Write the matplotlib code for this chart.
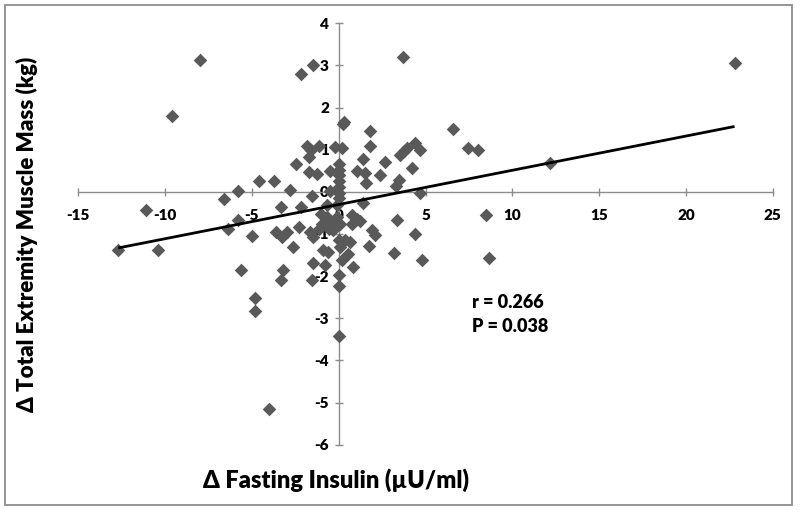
import matplotlib
matplotlib.use("Agg")
import matplotlib.pyplot as plt
from matplotlib.patches import Rectangle
import numpy as np

# Δ Fasting Insulin (µU/ml)
insulin_change = [
    -12.7, -11.1, -10.4, -9.6, -8.0, -6.6, -6.4, -5.8, -5.8, -5.6,
    -5.0, -4.8, -4.8, -4.57, -4.0, -3.72, -3.6, -3.28, -3.3, -2.99,
    -3.2, -3.3, -2.8, -2.61, -2.47, -2.27, -2.2, -2.2, -1.81, -1.6,
    -1.72, -1.72, -1.67, -1.5, -1.55, -1.5, -1.5, -1.55, -1.27, -1.12,
    -1.15, -1.0, -0.98, -0.92, -0.79, -0.69, -0.69, -0.6, -0.5, -0.5,
    -0.4, -0.31, -0.55, -0.22, -0.12, -0.1, 0.0, 0.0, 0.0, 0.0,
    0.0, 0.0, 0.0, 0.07, 0.0, 0.07, 0.17, 0.0, 0.0, 0.0,
    0.2, 0.25, 0.32, 0.36, 0.55, 0.65, 0.75, 0.75, 0.84, 1.05,
    1.05, 1.25, 1.42, 1.42, 1.51, 1.6, 1.78, 1.78, 1.76, 1.9,
    2.1, 2.38, 2.67, 3.2, 3.28, 3.47, 3.35, 3.55, 3.7, 3.78,
    3.91, 4.2, 4.37, 4.37, 4.68, 4.68, 4.8, 6.6, 7.46, 8.0,
    8.48, 8.67, 12.2, 22.8,
]
# Δ Total Extremity Muscle Mass (kg)
muscle_change = [
    -1.37, -0.42, -1.39, 1.79, 3.12, -0.17, -0.89, 0.03, -0.66, -1.85,
    -1.05, -2.51, -2.83, 0.26, -5.15, 0.26, -0.95, -1.07, -0.35, -0.95,
    -1.85, -2.1, 0.05, -1.30, 0.67, -0.84, -0.35, 2.79, 1.10, 1.0,
    0.82, 0.48, -0.95, 3.0, -0.11, -1.07, -1.69, -2.1, 0.43, 1.08,
    -0.88, -0.52, -0.76, -1.39, -1.73, -0.6, -0.32, -1.43, 0.49, 0.02,
    -0.76, -0.91, -0.88, 1.07, -0.6, -0.3, 0.67, 0.51, 0.4, 0.25,
    0.12, -0.03, -0.15, -0.76, -1.15, -1.3, -1.61, -1.98, -2.24, -3.41,
    1.04, 1.6, 1.66, -1.15, -1.48, -1.19, -0.76, -0.56, -1.79, -0.64,
    0.49, -0.68, 0.78, -0.27, 0.44, 0.2, 1.44, 1.09, -1.29, -0.91,
    -1.03, 0.4, 0.71, -1.45, 0.15, 0.27, -0.66, 0.88, 3.2, 0.97,
    1.04, 0.57, 1.17, -1.0, 1.0, -0.02, -1.62, 1.48, 1.04, 0.99,
    -0.56, -1.57, 0.69, 3.05,
]

# linear trend line
trend_slope = 0.0812
trend_intercept = -0.30

stats_text = ["r = 0.266", "P = 0.038"]
x_ticks = [-15, -10, -5, 0, 5, 10, 15, 20, 25]
y_ticks = [-6, -5, -4, -3, -2, -1, 0, 1, 2, 3, 4]

plt.rcParams['font.family'] = ['Lato', 'DejaVu Sans']

W, H = 800, 512
fig = plt.figure(figsize=(W / 100, H / 100), dpi=100)
fig.patch.set_facecolor('white')

# outer border of chart area
fig.patches.append(Rectangle((5 / W, 1 - 505 / H), 787 / W, 500 / H,
                             transform=fig.transFigure, fill=False,
                             edgecolor='#8c8c8c', linewidth=1.3))

ax = fig.add_axes([78.3 / W, 1 - 444.7 / H, (772.7 - 78.3) / W, (444.7 - 23.3) / H])
ax.set_facecolor('none')
ax.set_xlim(-15, 25)
ax.set_ylim(-6, 4)

for side in ['top', 'right']:
    ax.spines[side].set_visible(False)
ax.spines['left'].set_position(('data', 0))
ax.spines['bottom'].set_position(('data', 0))
for side in ['left', 'bottom']:
    ax.spines[side].set_color('#8c8c8c')
    ax.spines[side].set_linewidth(1.0)

ax.set_xticks(x_ticks)
ax.set_yticks(y_ticks)
ax.set_xticklabels([str(v) for v in x_ticks])
ax.set_yticklabels([str(v) for v in y_ticks])
ax.tick_params(axis='both', direction='inout', length=6, width=1.0,
               color='#8c8c8c', labelsize=11)
ax.tick_params(axis='x', pad=9)
ax.tick_params(axis='y', pad=4)
for lab in ax.get_xticklabels() + ax.get_yticklabels():
    lab.set_fontweight('heavy')

x_arr = np.array(insulin_change)
y_arr = np.array(muscle_change)
ax.scatter(x_arr, y_arr, marker='D', s=48, color='#595959', linewidths=0,
           zorder=3, clip_on=False)

xl = np.array([x_arr.min(), x_arr.max()])
ax.plot(xl, trend_slope * xl + trend_intercept, color='black', linewidth=2.0,
        zorder=4, solid_capstyle='butt')

fig.text(472 / W, 1 - 302 / H, stats_text[0], fontsize=13, fontweight='heavy',
         ha='left', va='center')
fig.text(472 / W, 1 - 327 / H, stats_text[1], fontsize=13, fontweight='heavy',
         ha='left', va='center')

fig.text(336 / W, 1 - 480 / H, 'Δ Fasting Insulin (µU/ml)', fontsize=17,
         fontweight='heavy', ha='center', va='center')
fig.text(27 / W, 1 - 234 / H, 'Δ Total Extremity Muscle Mass (kg)', fontsize=16,
         fontweight='heavy', ha='center', va='center', rotation=90)

fig.savefig('out.png', dpi=100, facecolor='white')
